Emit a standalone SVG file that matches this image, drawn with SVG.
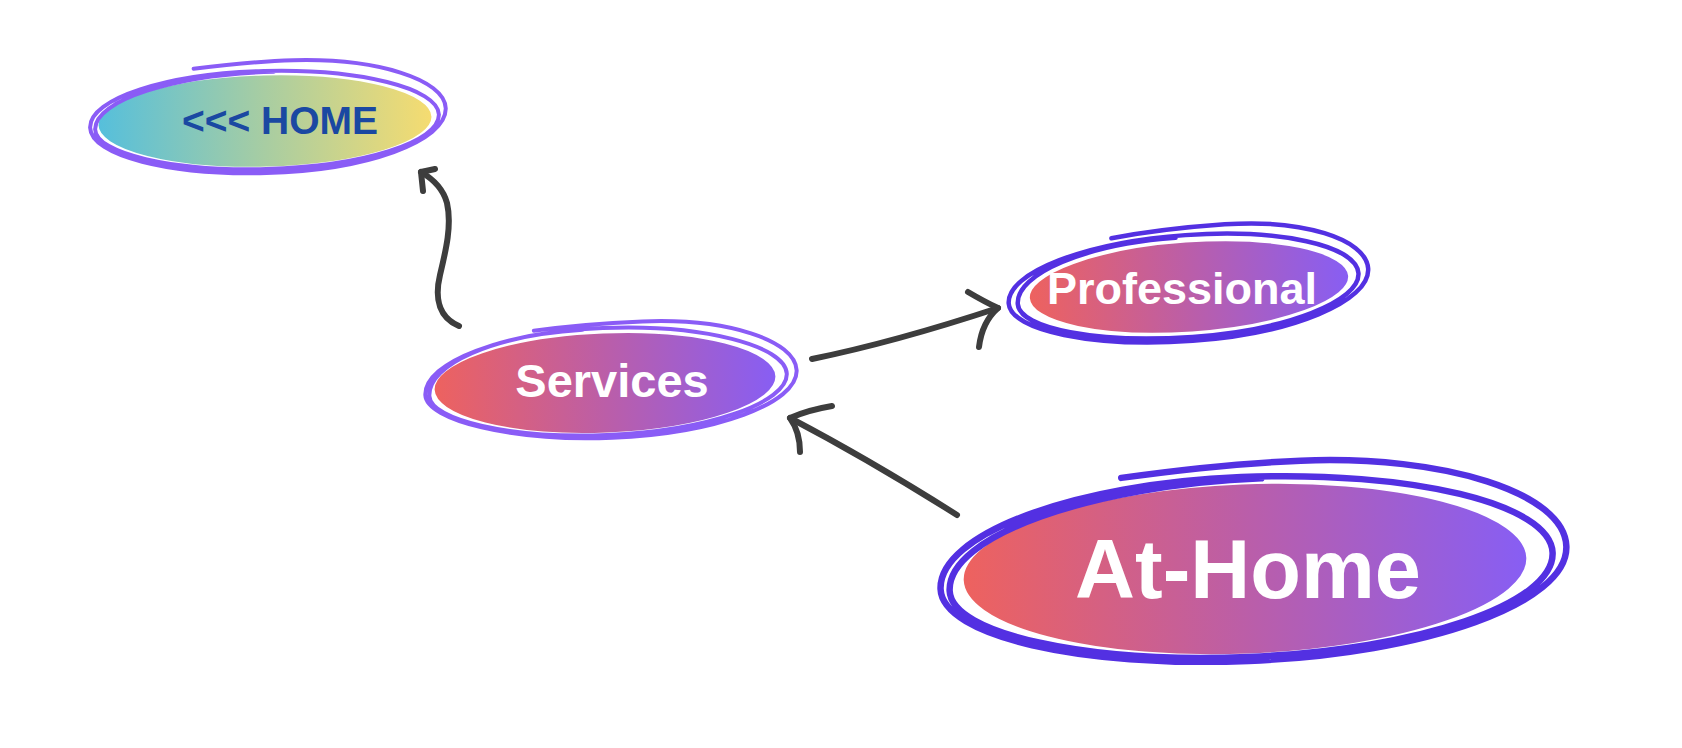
<svg xmlns="http://www.w3.org/2000/svg" width="1682" height="748" viewBox="0 0 1682 748">
<defs>
<linearGradient id="gHome" x1="0" y1="0" x2="1" y2="0">
<stop offset="0" stop-color="#55bfdc"/>
<stop offset="0.5" stop-color="#a8cda2"/>
<stop offset="1" stop-color="#f6dc70"/>
</linearGradient>
<linearGradient id="gPur" x1="0" y1="0" x2="1" y2="0">
<stop offset="0" stop-color="#ee625e"/>
<stop offset="0.5" stop-color="#bb5ea8"/>
<stop offset="1" stop-color="#875ef4"/>
</linearGradient>
<style>
.fill{stroke:#ffffff;stroke-width:3}
.ol{fill:none;stroke-linecap:round;stroke-linejoin:round}
.ol1{stroke:#8a5cf6;stroke-width:4}
.ol2{stroke:#5330e2;stroke-width:4.5}
.ol3{stroke:#5330e2;stroke-width:6.5}
.lbl{font-family:"Liberation Sans",Arial,sans-serif;font-weight:bold;text-anchor:middle;fill:#ffffff}
.arr{fill:none;stroke:#3d3d3d;stroke-width:6;stroke-linecap:round;stroke-linejoin:round}
</style>
</defs>
<rect width="1682" height="748" fill="#ffffff"/>

<g id="node-home">
<g transform="translate(265,121) rotate(-1.5)">
<ellipse class="fill" cx="0" cy="0" rx="168" ry="47" fill="url(#gHome)"/>
<path class="ol ol1" d="M -70 -54 C -40 -57, 0 -60, 30 -60 C 113 -60, 181 -37, 181 -8 C 181 25, 100 52, 0 52 C -97 52, -175 30, -175 2 C -175 -27, -97 -50, 0 -50 C 96 -50, 174 -28, 174 -2 C 174 26, 96 48, 0 48 C -94 48, -170 28, -170 4 C -170 -25, -89 -49, 10 -49"/>
</g>
<text class="lbl" x="280" y="134" font-size="39" style="fill:#1a48a2">&lt;&lt;&lt; HOME</text>
</g>

<g id="node-services">
<g transform="translate(605,383) rotate(-2.3)">
<ellipse class="fill" cx="0" cy="0" rx="172" ry="51" fill="url(#gPur)"/>
<path class="ol ol1" d="M -69 -55 C -40 -58, 0 -60, 40 -60 C 125 -60, 192 -35, 192 -5 C 192 28, 108 55, 5 55 C -95 55, -180 30, -180 5 C -180 -28, -100 -55, 0 -55 C 100 -55, 182 -30, 182 -2 C 182 27, 100 52, 0 52 C -97 52, -176 30, -176 6 C -176 -26, -110 -52, -20 -54"/>
</g>
<text class="lbl" x="612" y="397" font-size="47">Services</text>
</g>

<g id="node-professional">
<g transform="translate(1189,287) rotate(-4)">
<ellipse class="fill" cx="0" cy="0" rx="161" ry="46" fill="url(#gPur)"/>
<path class="ol ol2" d="M -74 -54 C -40 -58, 0 -60, 40 -60 C 117 -60, 180 -36, 180 -6 C 180 27, 99 54, 0 54 C -100 54, -181 31, -181 4 C -181 -27, -100 -52, 0 -52 C 94 -52, 170 -30, 170 -2 C 170 26, 94 50, 0 50 C -95 50, -172 30, -172 5 C -172 -25, -100 -50, -10 -50"/>
</g>
<text class="lbl" x="1182" y="304" font-size="45">Professional</text>
</g>

<g id="node-athome">
<g transform="translate(1245,569) rotate(-2.3)">
<ellipse class="fill" cx="0" cy="0" rx="283" ry="86" fill="url(#gPur)"/>
<path class="ol ol3" d="M -120 -96 C -60 -102, 0 -106, 60 -106 C 205 -106, 322 -63, 322 -10 C 322 47, 178 92, 0 92 C -168 92, -305 55, -305 8 C -305 -47, -168 -92, 0 -92 C 170 -92, 308 -53, 308 -4 C 308 47, 170 88, 0 88 C -163 88, -296 53, -296 10 C -296 -45, -150 -90, 20 -90"/>
</g>
<text class="lbl" x="1248" y="598" font-size="83">At-Home</text>
</g>

<g id="connectors">
<path class="arr" d="M 459 326 C 440 318, 434 300, 440 275 C 446 250, 452 225, 447 203 C 443 188, 433 179, 421 172"/>
<path class="arr" d="M 435 169 L 421 172 L 423 191"/>
<path class="arr" d="M 812 359 Q 895 342, 998 308"/>
<path class="arr" d="M 968 292 Q 985 302, 998 308 Q 982 322, 979 347"/>
<path class="arr" d="M 957 515 Q 870 460, 790 418"/>
<path class="arr" d="M 832 406 Q 808 410, 790 418 Q 800 432, 800 452"/>
</g>
</svg>
